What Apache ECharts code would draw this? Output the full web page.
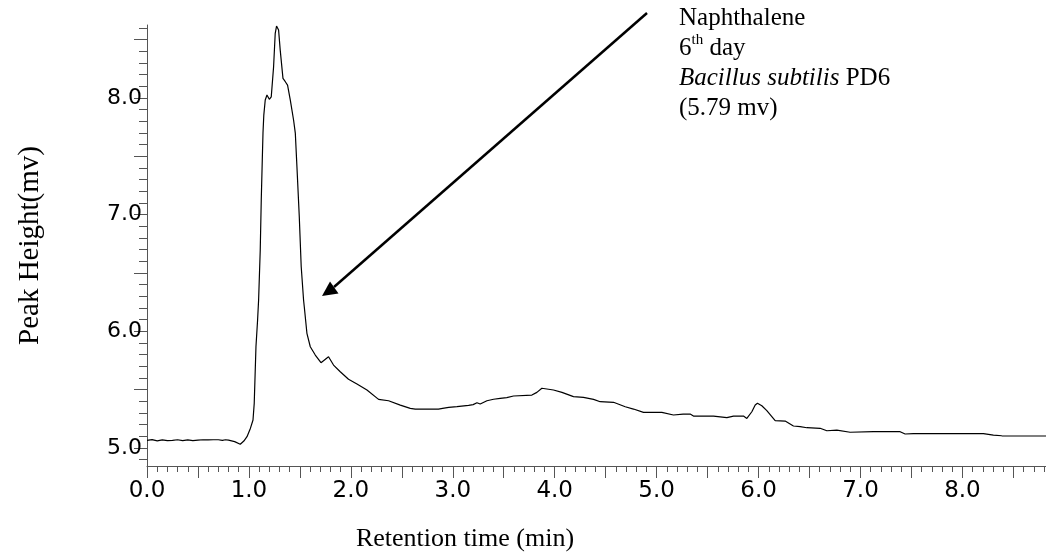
<!DOCTYPE html>
<html>
<head>
<meta charset="utf-8">
<script src="https://cdn.jsdelivr.net/npm/echarts@6/dist/echarts.min.js"></script>
<style>
  html, body { margin: 0; padding: 0; background: #fff; }
  #chart { width: 1046px; height: 558px; }
</style>
</head>
<body>
<div id="chart"></div>
<script>
// retention time (min)
var times = [0.00, 0.05, 0.10, 0.15, 0.20, 0.25, 0.30, 0.35, 0.40, 0.45, 0.50, 0.55, 0.60, 0.65, 0.70, 0.74, 0.77, 0.80, 0.86, 0.915,
  0.95, 0.981, 1.015, 1.040, 1.052, 1.069, 1.085, 1.095, 1.111, 1.121, 1.131, 1.138, 1.146, 1.160, 1.177, 1.200, 1.219, 1.242, 1.258, 1.271,
  1.291, 1.307, 1.334, 1.357, 1.379, 1.406, 1.438, 1.455, 1.471, 1.494, 1.513, 1.536, 1.543, 1.569, 1.602, 1.651, 1.707, 1.781, 1.830, 1.896,
  1.977, 2.060, 2.158, 2.272, 2.370, 2.485, 2.583, 2.632, 2.860, 2.877, 2.900, 2.960, 3.041, 3.155, 3.200, 3.237, 3.269, 3.335, 3.400, 3.465,
  3.530, 3.596, 3.776, 3.825, 3.874, 3.988, 4.071, 4.184, 4.282, 4.381, 4.446, 4.577, 4.692, 4.773, 4.871, 5.051, 5.165, 5.260, 5.329, 5.361,
  5.558, 5.689, 5.754, 5.852, 5.885, 5.934, 5.967, 5.989, 6.032, 6.081, 6.163, 6.261, 6.342, 6.408, 6.474, 6.604, 6.670, 6.768, 6.784, 6.898,
  7.127, 7.389, 7.438, 7.519, 7.912, 8.206, 8.304, 8.386, 8.820];
// peak height (mv)
var heights = [5.066, 5.072, 5.062, 5.070, 5.064, 5.066, 5.071, 5.063, 5.070, 5.064, 5.068, 5.071, 5.070, 5.071, 5.071, 5.066, 5.071, 5.068, 5.055, 5.032,
  5.060, 5.097, 5.170, 5.240, 5.383, 5.868, 6.097, 6.268, 6.697, 7.125, 7.468, 7.699, 7.853, 7.982, 8.025, 7.988, 8.010, 8.267, 8.554, 8.616,
  8.582, 8.410, 8.168, 8.139, 8.110, 7.982, 7.811, 7.699, 7.410, 6.982, 6.554, 6.268, 6.211, 5.983, 5.868, 5.797, 5.731, 5.782, 5.711, 5.654,
  5.589, 5.548, 5.497, 5.417, 5.405, 5.368, 5.340, 5.334, 5.334, 5.345, 5.340, 5.348, 5.354, 5.366, 5.372, 5.388, 5.377, 5.405, 5.418, 5.426,
  5.432, 5.446, 5.454, 5.477, 5.512, 5.497, 5.477, 5.440, 5.434, 5.417, 5.397, 5.392, 5.354, 5.334, 5.306, 5.306, 5.283, 5.290, 5.291, 5.274,
  5.274, 5.260, 5.274, 5.274, 5.254, 5.311, 5.368, 5.383, 5.362, 5.320, 5.234, 5.231, 5.189, 5.183, 5.174, 5.169, 5.148, 5.154, 5.140, 5.135,
  5.140, 5.140, 5.120, 5.123, 5.123, 5.123, 5.111, 5.105, 5.103];

// tick labels
var xLabels = [0, 1, 2, 3, 4, 5, 6, 7, 8];
var yLabels = [5, 6, 7, 8];

// tick positions (major every 0.5, minor every 0.1)
function steps(from, to, step) {
  var out = [];
  for (var v = from; v <= to + 1e-9; v += step) out.push(Math.round(v * 10) / 10);
  return out;
}
var xMajor = steps(0, 8.5, 0.5);
var xMinor = steps(0, 8.8, 0.1);
var yMajor = steps(5, 8.5, 0.5);
var yMinor = steps(4.9, 8.6, 0.1);

var axisColor = "#555";

var myChart = echarts.init(document.getElementById("chart"));

var option = {
  animation: false,
  backgroundColor: "#fff",
  grid: {
    left: 147,
    right: 0,
    top: 25,
    bottom: 92,
    containLabel: false,
    outerBoundsMode: "none"
  },
  xAxis: [
    {
      type: "value",
      position: "bottom",
      min: 0,
      max: 8.82,
      axisLine: { lineStyle: { color: axisColor, width: 1 } },
      axisTick: { customValues: xMajor, length: 12, lineStyle: { color: axisColor } },
      axisLabel: {
        customValues: xLabels,
        margin: 14,
        color: "#000",
        fontFamily: "DejaVu Sans",
        fontSize: 23,
        formatter: function (v) { return v.toFixed(1); }
      },
      splitLine: { show: false }
    },
    {
      // second axis only carries the minor ticks
      type: "value",
      position: "bottom",
      min: 0,
      max: 8.82,
      axisLine: { show: false },
      axisTick: { customValues: xMinor, length: 6, lineStyle: { color: axisColor } },
      axisLabel: { show: false },
      splitLine: { show: false }
    }
  ],
  yAxis: [
    {
      type: "value",
      position: "left",
      min: 4.846,
      max: 8.625,
      name: "Peak Height(mv)",
      nameLocation: "middle",
      nameRotate: 90,
      nameGap: 102,
      nameTextStyle: { color: "#000", fontFamily: "Liberation Serif", fontSize: 29 },
      axisLine: { lineStyle: { color: axisColor, width: 1 } },
      axisTick: { customValues: yMajor, length: 13, lineStyle: { color: axisColor } },
      axisLabel: {
        customValues: yLabels,
        margin: 5,
        color: "#000",
        fontFamily: "DejaVu Sans",
        fontSize: 22,
        formatter: function (v) { return v.toFixed(1); }
      },
      splitLine: { show: false }
    },
    {
      type: "value",
      position: "left",
      min: 4.846,
      max: 8.625,
      axisLine: { show: false },
      axisTick: { customValues: yMinor, length: 8, lineStyle: { color: axisColor } },
      axisLabel: { show: false },
      splitLine: { show: false }
    }
  ],
  series: [
    {
      type: "line",
      xAxisIndex: 0,
      yAxisIndex: 0,
      showSymbol: false,
      symbol: "none",
      lineStyle: { color: "#000", width: 1.2 },
      data: times.map(function (t, i) { return [t, heights[i]]; })
    }
  ],
  graphic: [
    // x axis title sits left of the axis centre in the original
    {
      type: "text",
      x: 465,
      y: 539,
      style: {
        text: "Retention time (min)",
        fill: "#000",
        font: "26px 'Liberation Serif'",
        align: "center",
        verticalAlign: "middle"
      }
    },
    // annotation arrow
    {
      type: "line",
      shape: { x1: 647, y1: 13, x2: 334, y2: 287 },
      style: { stroke: "#000", lineWidth: 2.5 }
    },
    {
      type: "polygon",
      shape: { points: [[322, 296], [330, 281.5], [338.5, 293.5]] },
      style: { fill: "#000" }
    },
    {
      type: "text",
      x: 679,
      y: 3,
      style: {
        text: "{n|Naphthalene}\n{n|6}{sup|th}{n| day}\n{it|Bacillus subtilis}{n| PD6}\n{n|(5.79 mv)}",
        fill: "#000",
        fontFamily: "Liberation Serif",
        fontSize: 25,
        lineHeight: 30,
        verticalAlign: "top",
        rich: {
          n: { fontFamily: "Liberation Serif", fontSize: 25, lineHeight: 30 },
          sup: { fontFamily: "Liberation Serif", fontSize: 15, lineHeight: 15, verticalAlign: "top" },
          it: { fontFamily: "Liberation Serif", fontSize: 25, lineHeight: 30, fontStyle: "italic" }
        }
      }
    }
  ]
};

myChart.setOption(option);
window.onresize = myChart.resize;
</script>
</body>
</html>
